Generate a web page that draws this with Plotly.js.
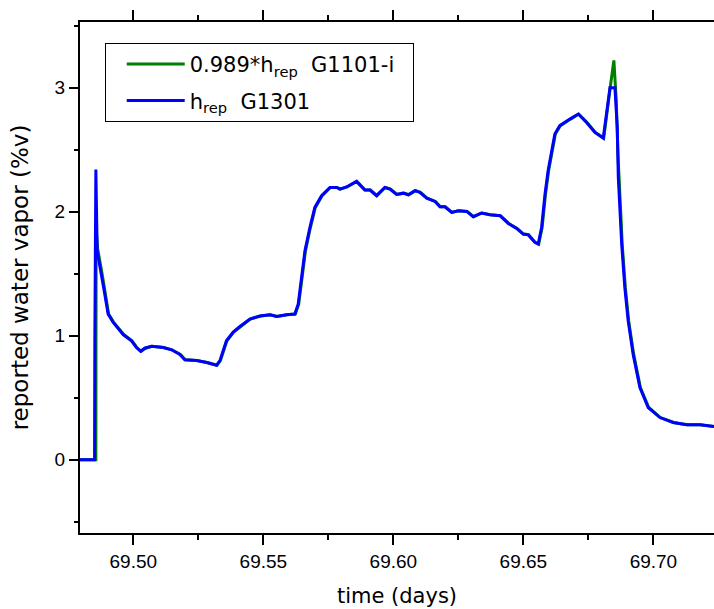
<!DOCTYPE html>
<html>
<head>
<meta charset="utf-8">
<script src="https://cdn.plot.ly/plotly-3.0.1.min.js"></script>
<style>html,body{margin:0;padding:0;background:#fff;}#chart{width:714px;height:609px;}</style>
</head>
<body>
<div id="chart"></div>
<script>
// time (days) and reported water vapor (%v) for hrep G1301 (blue)
const tBlue = [69.4795, 69.4851, 69.4852, 69.4856, 69.4861, 69.4878, 69.4890, 69.4903, 69.4922, 69.4961, 69.4993, 69.5012, 69.5028, 69.5044, 69.5070, 69.5115, 69.5147, 69.5179, 69.5198, 69.5243, 69.5282, 69.5320, 69.5333, 69.5358, 69.5384, 69.5410, 69.5448, 69.5487, 69.5525, 69.5551, 69.5589, 69.5621, 69.5634, 69.5647, 69.5660, 69.5679, 69.5698, 69.5724, 69.5756, 69.5782, 69.5794, 69.5820, 69.5858, 69.5890, 69.5910, 69.5935, 69.5967, 69.5987, 69.6012, 69.6038, 69.6057, 69.6083, 69.6102, 69.6128, 69.6160, 69.6179, 69.6198, 69.6224, 69.6249, 69.6282, 69.6307, 69.6339, 69.6371, 69.6410, 69.6442, 69.6474, 69.6499, 69.6518, 69.6544, 69.6557, 69.6570, 69.6583, 69.6595, 69.6621, 69.6640, 69.6679, 69.6711, 69.6743, 69.6775, 69.6807, 69.6820, 69.6833, 69.6852, 69.6861, 69.6865, 69.6878, 69.6890, 69.6903, 69.6922, 69.6948, 69.6980, 69.7025, 69.7076, 69.7128, 69.7179, 69.7235];
const vBlue = [0, 0, 0.94, 2.34, 1.685, 1.50, 1.34, 1.175, 1.11, 1.01, 0.96, 0.905, 0.875, 0.90, 0.915, 0.905, 0.887, 0.85, 0.806, 0.80, 0.785, 0.763, 0.80, 0.96, 1.03, 1.075, 1.135, 1.16, 1.17, 1.156, 1.17, 1.175, 1.255, 1.47, 1.685, 1.873, 2.035, 2.13, 2.196, 2.196, 2.183, 2.20, 2.245, 2.175, 2.175, 2.13, 2.196, 2.183, 2.14, 2.15, 2.137, 2.17, 2.156, 2.11, 2.083, 2.04, 2.04, 1.995, 2.008, 2.003, 1.96, 1.99, 1.976, 1.968, 1.906, 1.866, 1.82, 1.815, 1.753, 1.74, 1.873, 2.14, 2.33, 2.627, 2.694, 2.747, 2.788, 2.72, 2.64, 2.594, 2.788, 3.00, 3.00, 2.68, 2.277, 1.74, 1.39, 1.12, 0.852, 0.583, 0.422, 0.341, 0.301, 0.282, 0.282, 0.269];

// 0.989*hrep G1101-i (green)
const tGreen = [69.4795, 69.4856, 69.4857, 69.4863, 69.4880, 69.4892, 69.4905, 69.4924, 69.4963, 69.4995, 69.5014, 69.5030, 69.5046, 69.5072, 69.5117, 69.5149, 69.5181, 69.5200, 69.5245, 69.5284, 69.5322, 69.5335, 69.5360, 69.5386, 69.5412, 69.5450, 69.5489, 69.5527, 69.5553, 69.5591, 69.5623, 69.5636, 69.5649, 69.5662, 69.5681, 69.5700, 69.5726, 69.5758, 69.5784, 69.5796, 69.5822, 69.5860, 69.5892, 69.5912, 69.5937, 69.5969, 69.5989, 69.6014, 69.6040, 69.6059, 69.6085, 69.6104, 69.6130, 69.6162, 69.6181, 69.6200, 69.6226, 69.6251, 69.6284, 69.6309, 69.6341, 69.6373, 69.6412, 69.6444, 69.6476, 69.6501, 69.6520, 69.6546, 69.6559, 69.6572, 69.6585, 69.6597, 69.6623, 69.6642, 69.6681, 69.6713, 69.6745, 69.6777, 69.6809, 69.6822, 69.6835, 69.6848, 69.6857, 69.6864, 69.6868, 69.6880, 69.6892, 69.6905, 69.6924, 69.6950, 69.6982, 69.7027, 69.7078, 69.7130, 69.7181, 69.7235];
const vGreen = [0, 0, 1.87, 1.70, 1.50, 1.34, 1.175, 1.11, 1.01, 0.96, 0.905, 0.875, 0.90, 0.915, 0.905, 0.887, 0.85, 0.806, 0.80, 0.785, 0.763, 0.80, 0.96, 1.03, 1.075, 1.135, 1.16, 1.17, 1.156, 1.17, 1.175, 1.255, 1.47, 1.685, 1.873, 2.035, 2.13, 2.196, 2.196, 2.183, 2.20, 2.245, 2.175, 2.175, 2.13, 2.196, 2.183, 2.14, 2.15, 2.137, 2.17, 2.156, 2.11, 2.083, 2.04, 2.04, 1.995, 2.008, 2.003, 1.96, 1.99, 1.976, 1.968, 1.906, 1.866, 1.82, 1.815, 1.753, 1.74, 1.873, 2.14, 2.33, 2.627, 2.694, 2.747, 2.788, 2.72, 2.64, 2.594, 2.788, 3.02, 3.22, 2.9, 2.45, 2.277, 1.74, 1.39, 1.12, 0.852, 0.583, 0.422, 0.341, 0.301, 0.282, 0.282, 0.269];

const seriesNames = ['0.989*h<sub>rep</sub>  G1101-i\u00A0\u00A0', 'h<sub>rep</sub>  G1301'];
const xTickVals = [69.50, 69.55, 69.60, 69.65, 69.70];
const xTickText = ['69.50', '69.55', '69.60', '69.65', '69.70'];
const yTickVals = [0, 1, 2, 3];
const yTickText = ['0', '1', '2', '3'];
const xRange = [69.4795, 69.7233];

const FONT = 'Liberation Sans, Arial, sans-serif';
const WIDE = 'DejaVu Sans, Verdana, sans-serif';

const traces = [
  {x: tGreen, y: vGreen, type: 'scatter', mode: 'lines', name: seriesNames[0], legendgroup: 'g1',
   line: {color: '#008000', width: 3}},
  {x: tBlue, y: vBlue, type: 'scatter', mode: 'lines', name: seriesNames[1], legendgroup: 'g2',
   line: {color: '#0000ff', width: 3}},
  {x: xRange, y: [null, null], xaxis: 'x2', yaxis: 'y', type: 'scatter', mode: 'lines', showlegend: false, hoverinfo: 'skip'}
];

const minorX = {tickmode: 'linear', tick0: 69.475, dtick: 0.025, ticks: 'outside', ticklen: 5, tickwidth: 2, tickcolor: '#000', showgrid: false};

const layout = {
  width: 714, height: 609,
  margin: {l: 80, r: 0, t: 22, b: 76, pad: 0},
  paper_bgcolor: '#ffffff', plot_bgcolor: '#ffffff',
  font: {family: FONT, color: '#000000', size: 19},
  showlegend: true,
  legend: {x: 0.039, y: 0.959, xanchor: 'left', yanchor: 'top',
    traceorder: 'grouped', tracegroupgap: 6, itemwidth: 58, indentation: 16,
    bordercolor: '#000000', borderwidth: 1, bgcolor: '#ffffff',
    font: {family: WIDE, size: 21, color: '#000000'}},
  xaxis: {
    type: 'linear', range: xRange,
    tickmode: 'array', tickvals: xTickVals, ticktext: xTickText,
    ticks: 'outside', ticklen: 10, tickwidth: 2, tickcolor: '#000',
    showline: true, linecolor: '#000', linewidth: 2, mirror: 'ticks',
    showgrid: false, zeroline: false,
    minor: minorX,
    tickfont: {family: FONT, size: 19},
    title: {text: 'time (days)', font: {family: WIDE, size: 21}, standoff: 18}
  },
  xaxis2: {
    type: 'linear', overlaying: 'x', side: 'top', anchor: 'y', range: xRange,
    tickmode: 'array', tickvals: xTickVals, showticklabels: false,
    ticks: 'outside', ticklen: 10, tickwidth: 2, tickcolor: '#000',
    showline: true, linecolor: '#000', linewidth: 2,
    showgrid: false, zeroline: false,
    minor: minorX
  },
  yaxis: {
    range: [-0.59, 3.53],
    tickmode: 'array', tickvals: yTickVals, ticktext: yTickText,
    ticks: 'outside', ticklen: 9, tickwidth: 2, tickcolor: '#000',
    showline: true, linecolor: '#000', linewidth: 2, mirror: false,
    showgrid: false, zeroline: false,
    minor: {tickmode: 'linear', tick0: -0.5, dtick: 0.5, ticks: 'outside', ticklen: 4, tickwidth: 2, tickcolor: '#000', showgrid: false},
    tickfont: {family: FONT, size: 19},
    title: {text: 'reported water vapor (%v)', font: {family: WIDE, size: 23}, standoff: 20}
  }
};

Plotly.newPlot('chart', traces, layout, {displayModeBar: false, staticPlot: true});
</script>
</body>
</html>
